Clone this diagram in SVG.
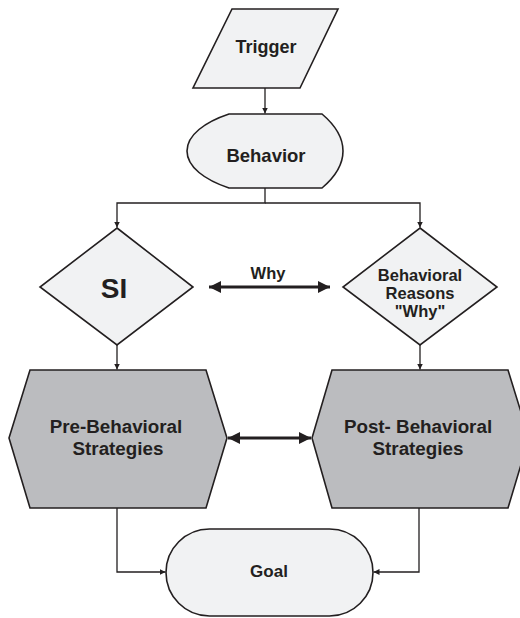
<svg xmlns="http://www.w3.org/2000/svg" width="520" height="618" viewBox="0 0 520 618">
<defs>
<style>
.light{fill:#f1f2f3;stroke:#231f20;stroke-width:1.6;stroke-linejoin:miter}
.dark{fill:#bbbcbf;stroke:#231f20;stroke-width:1.6}
.conn{fill:none;stroke:#231f20;stroke-width:1.3}
.thick{fill:none;stroke:#231f20;stroke-width:3.2}
text{font-family:"Liberation Sans",Arial,Helvetica,sans-serif;font-weight:bold;fill:#231f20;text-anchor:middle}
</style>
<marker id="sm" viewBox="0 0 8 8" refX="8" refY="4" markerWidth="6" markerHeight="6" markerUnits="userSpaceOnUse" orient="auto">
<path d="M0,0 L8,4 L0,8 Z" fill="#231f20"/>
</marker>
<marker id="big" viewBox="0 0 12 12" refX="12" refY="6" markerWidth="13" markerHeight="12" markerUnits="userSpaceOnUse" orient="auto-start-reverse">
<path d="M0,0 L12,6 L0,12 Z" fill="#231f20"/>
</marker>
</defs>
<g id="connectors">
<path class="conn" d="M265,88 V113.5" marker-end="url(#sm)"/>
<path class="conn" d="M265,188 V203 H117 V227.5" marker-end="url(#sm)"/>
<path class="conn" d="M265,203 H420 V227.5" marker-end="url(#sm)"/>
<path class="conn" d="M117,345 V369.5" marker-end="url(#sm)"/>
<path class="conn" d="M420,345 V369.5" marker-end="url(#sm)"/>
<path class="conn" d="M117,508 V572 H165.5" marker-end="url(#sm)"/>
<path class="conn" d="M419,508 V572 H373.5" marker-end="url(#sm)"/>
<path class="thick" d="M209,287 H330" marker-start="url(#big)" marker-end="url(#big)"/>
<path class="thick" d="M228,438 H311" marker-start="url(#big)" marker-end="url(#big)"/>
<text x="268" y="279" font-size="16.5">Why</text>
</g>
<g id="trigger">
<path class="light" d="M232,9 H338 L300,88 H193 Z"/>
<text x="266" y="53" font-size="18">Trigger</text>
</g>
<g id="behavior">
<path class="light" d="M229,114 H322 C335,125 343,138 343,151 C343,165 335,177 322,188 H229 C205,180 187,167 187,151 C187,135 205,122 229,114 Z"/>
<text x="266" y="162" font-size="18.5">Behavior</text>
</g>
<g id="si">
<path class="light" d="M117,228 L193,287 L117,345 L40,287 Z"/>
<text x="114" y="298" font-size="28">SI</text>
</g>
<g id="reasons">
<path class="light" d="M420,228 L497,287 L420,345 L343,287 Z"/>
<text x="420" y="281" font-size="16.5">Behavioral</text>
<text x="420" y="299" font-size="16.5">Reasons</text>
<text x="420" y="316.5" font-size="16.5">"Why"</text>
</g>
<g id="pre">
<path class="dark" d="M30,370 H206 L227,438 L206,508 H30 L9,438 Z"/>
<text x="116" y="433" font-size="18.8">Pre-Behavioral</text>
<text x="118" y="455" font-size="18.8">Strategies</text>
</g>
<g id="post">
<path class="dark" d="M332,370 H508 L529,438 L508,508 H332 L312,438 Z"/>
<text x="418" y="433" font-size="18.8">Post- Behavioral</text>
<text x="418" y="455" font-size="18.8">Strategies</text>
</g>
<g id="goal">
<rect class="light" x="166" y="529" width="207" height="87" rx="43.5" ry="43.5"/>
<text x="269" y="577" font-size="17">Goal</text>
</g>
</svg>
